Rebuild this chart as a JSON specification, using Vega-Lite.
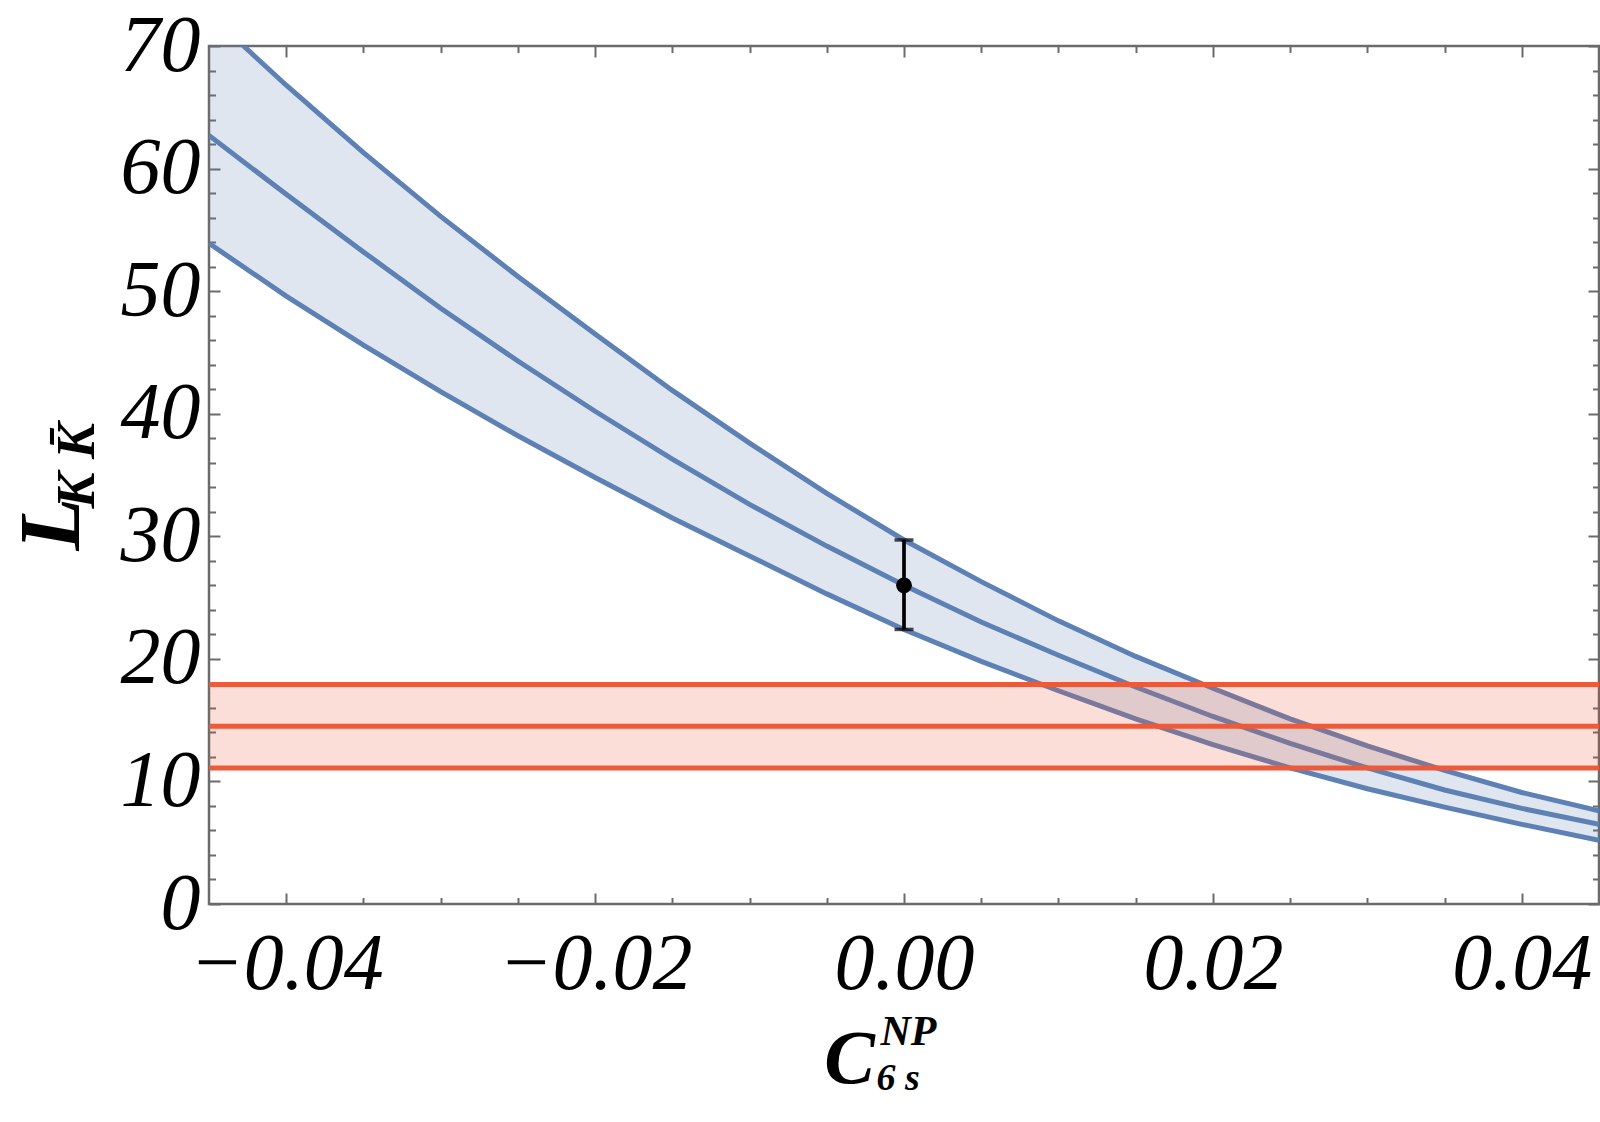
{
  "$schema": "https://vega.github.io/schema/vega-lite/v6.json",
  "width": 1390,
  "height": 858,
  "autosize": {"type": "none"},
  "padding": {"left": 209, "top": 46, "right": 1, "bottom": 218},
  "background": "white",
  "datasets": {
    "band": [
      {"c": -0.045, "lo": 53.9, "mid": 62.7, "hi": 72.6},
      {"c": -0.04, "lo": 49.6, "mid": 57.9, "hi": 66.8},
      {"c": -0.035, "lo": 45.6, "mid": 53.2, "hi": 61.3},
      {"c": -0.03, "lo": 41.8, "mid": 48.6, "hi": 56.1},
      {"c": -0.025, "lo": 38.2, "mid": 44.3, "hi": 51.2},
      {"c": -0.02, "lo": 34.8, "mid": 40.2, "hi": 46.5},
      {"c": -0.015, "lo": 31.5, "mid": 36.3, "hi": 41.9},
      {"c": -0.01, "lo": 28.4, "mid": 32.6, "hi": 37.6},
      {"c": -0.005, "lo": 25.3, "mid": 29.2, "hi": 33.5},
      {"c": 0.0, "lo": 22.4, "mid": 26.0, "hi": 29.7},
      {"c": 0.005, "lo": 19.8, "mid": 23.0, "hi": 26.3},
      {"c": 0.01, "lo": 17.4, "mid": 20.3, "hi": 23.1},
      {"c": 0.015, "lo": 15.1, "mid": 17.7, "hi": 20.2},
      {"c": 0.02, "lo": 13.0, "mid": 15.3, "hi": 17.6},
      {"c": 0.025, "lo": 11.1, "mid": 13.1, "hi": 15.1},
      {"c": 0.03, "lo": 9.4, "mid": 11.1, "hi": 12.9},
      {"c": 0.035, "lo": 7.9, "mid": 9.3, "hi": 10.9},
      {"c": 0.04, "lo": 6.5, "mid": 7.8, "hi": 9.1},
      {"c": 0.045, "lo": 5.2, "mid": 6.5, "hi": 7.6}
    ],
    "exp": [{"lo": 11.1, "mid": 14.5, "hi": 17.9}],
    "point": [{"c": 0.0, "val": 26.0, "lo": 22.4, "hi": 29.7}]
  },
  "resolve": {"axis": {"x": "independent", "y": "independent"}},
  "layer": [
    {
      "data": {"name": "band"},
      "mark": {"type": "area", "color": "#5e81b5", "opacity": 0.2, "clip": true},
      "encoding": {
        "x": {
          "field": "c", "type": "quantitative",
          "scale": {"domain": [-0.045, 0.045], "nice": false, "zero": false},
          "axis": {
            "orient": "bottom", "values": [-0.04, -0.02, 0, 0.02, 0.04], "format": ".2f",
            "tickSize": -11, "labelPadding": 95, "labelBaseline": "alphabetic",
            "title": "C", "titleFontSize": 76, "titleAlign": "center", "titleBaseline": "alphabetic",
            "titleX": 640, "titleY": 178
          }
        },
        "y": {
          "field": "lo", "type": "quantitative",
          "scale": {"domain": [0, 70], "nice": false, "zero": false},
          "axis": {
            "orient": "left", "values": [0, 10, 20, 30, 40, 50, 60, 70], "format": "d",
            "tickSize": -11, "labelPadding": 20,
            "title": "L", "titleFontSize": 86, "titleAngle": 270, "titleAlign": "left", "titleBaseline": "alphabetic",
            "titleX": -131, "titleY": 504
          }
        },
        "y2": {"field": "hi"}
      }
    },
    {
      "data": {"name": "band"},
      "transform": [{"fold": ["lo", "mid", "hi"], "as": ["curve", "val"]}],
      "mark": {"type": "line", "color": "#5e81b5", "strokeWidth": 5, "clip": true},
      "encoding": {
        "x": {
          "field": "c", "type": "quantitative",
          "scale": {"domain": [-0.045, 0.045], "nice": false, "zero": false},
          "axis": {
            "orient": "bottom",
            "values": [-0.035, -0.03, -0.025, -0.015, -0.01, -0.005, 0.005, 0.01, 0.015, 0.025, 0.03, 0.035],
            "tickSize": -6.5, "labels": false,
            "title": "NP", "titleFontSize": 42, "titleAlign": "left", "titleBaseline": "alphabetic",
            "titleX": 671, "titleY": 140
          }
        },
        "y": {
          "field": "val", "type": "quantitative",
          "scale": {"domain": [0, 70], "nice": false, "zero": false},
          "axis": {
            "orient": "left",
            "values": [2, 4, 6, 8, 12, 14, 16, 18, 22, 24, 26, 28, 32, 34, 36, 38, 42, 44, 46, 48, 52, 54, 56, 58, 62, 64, 66, 68],
            "tickSize": -6.5, "labels": false,
            "title": "K K\u0304", "titleFontSize": 54, "titleAngle": 270, "titleAlign": "left", "titleBaseline": "alphabetic",
            "titleX": -116, "titleY": 462
          }
        },
        "detail": {"field": "curve", "type": "nominal"}
      }
    },
    {
      "data": {"name": "exp"},
      "mark": {"type": "rect", "color": "#eb5a3a", "opacity": 0.2},
      "encoding": {
        "y": {
          "field": "lo", "type": "quantitative",
          "scale": {"domain": [0, 70], "nice": false, "zero": false},
          "axis": {"orient": "right", "values": [0, 10, 20, 30, 40, 50, 60, 70], "tickSize": -11, "labels": false, "title": null}
        },
        "y2": {"field": "hi"}
      }
    },
    {
      "data": {"name": "exp"},
      "transform": [{"fold": ["lo", "mid", "hi"], "as": ["line", "val"]}],
      "mark": {"type": "rule", "color": "#eb5a3a", "strokeWidth": 5},
      "encoding": {
        "y": {
          "field": "val", "type": "quantitative",
          "scale": {"domain": [0, 70], "nice": false, "zero": false},
          "axis": {
            "orient": "right",
            "values": [2, 4, 6, 8, 12, 14, 16, 18, 22, 24, 26, 28, 32, 34, 36, 38, 42, 44, 46, 48, 52, 54, 56, 58, 62, 64, 66, 68],
            "tickSize": -6.5, "labels": false, "title": null
          }
        }
      }
    },
    {
      "data": {"name": "point"},
      "mark": {"type": "rule", "color": "black", "strokeWidth": 3.7},
      "encoding": {
        "x": {
          "field": "c", "type": "quantitative",
          "scale": {"domain": [-0.045, 0.045], "nice": false, "zero": false},
          "axis": {"orient": "top", "values": [-0.04, -0.02, 0, 0.02, 0.04], "tickSize": -11, "labels": false, "title": null}
        },
        "y": {
          "field": "lo", "type": "quantitative",
          "scale": {"domain": [0, 70], "nice": false, "zero": false},
          "axis": null
        },
        "y2": {"field": "hi"}
      }
    },
    {
      "data": {"name": "point"},
      "transform": [{"fold": ["lo", "hi"], "as": ["end", "cap"]}],
      "mark": {"type": "tick", "orient": "horizontal", "color": "black", "size": 19, "thickness": 3.5},
      "encoding": {
        "x": {
          "field": "c", "type": "quantitative",
          "scale": {"domain": [-0.045, 0.045], "nice": false, "zero": false},
          "axis": {
            "orient": "top",
            "values": [-0.035, -0.03, -0.025, -0.015, -0.01, -0.005, 0.005, 0.01, 0.015, 0.025, 0.03, 0.035],
            "tickSize": -6.5, "labels": false, "title": null
          }
        },
        "y": {
          "field": "cap", "type": "quantitative",
          "scale": {"domain": [0, 70], "nice": false, "zero": false},
          "axis": null
        }
      }
    },
    {
      "data": {"name": "point"},
      "mark": {"type": "circle", "color": "black", "opacity": 1, "size": 250},
      "encoding": {
        "x": {
          "field": "c", "type": "quantitative",
          "scale": {"domain": [-0.045, 0.045], "nice": false, "zero": false},
          "axis": {
            "orient": "bottom", "ticks": false, "labels": false,
            "title": "6 s", "titleFontSize": 38, "titleAlign": "left", "titleBaseline": "alphabetic",
            "titleX": 667, "titleY": 185
          }
        },
        "y": {
          "field": "val", "type": "quantitative",
          "scale": {"domain": [0, 70], "nice": false, "zero": false},
          "axis": null
        }
      }
    }
  ],
  "config": {
    "view": {"stroke": "#6b6b6b", "strokeWidth": 2.5},
    "axis": {
      "domain": false,
      "grid": false,
      "zindex": 1,
      "tickColor": "#6b6b6b",
      "tickWidth": 2,
      "labelFont": "Liberation Serif",
      "labelFontSize": 80,
      "labelFontStyle": "italic",
      "labelColor": "black",
      "labelFlush": false,
      "labelOverlap": false,
      "labelLimit": 0,
      "titleFont": "Liberation Serif",
      "titleFontStyle": "italic",
      "titleFontWeight": "bold",
      "titleColor": "black",
      "titlePadding": 0,
      "titleLimit": 0
    }
  }
}
